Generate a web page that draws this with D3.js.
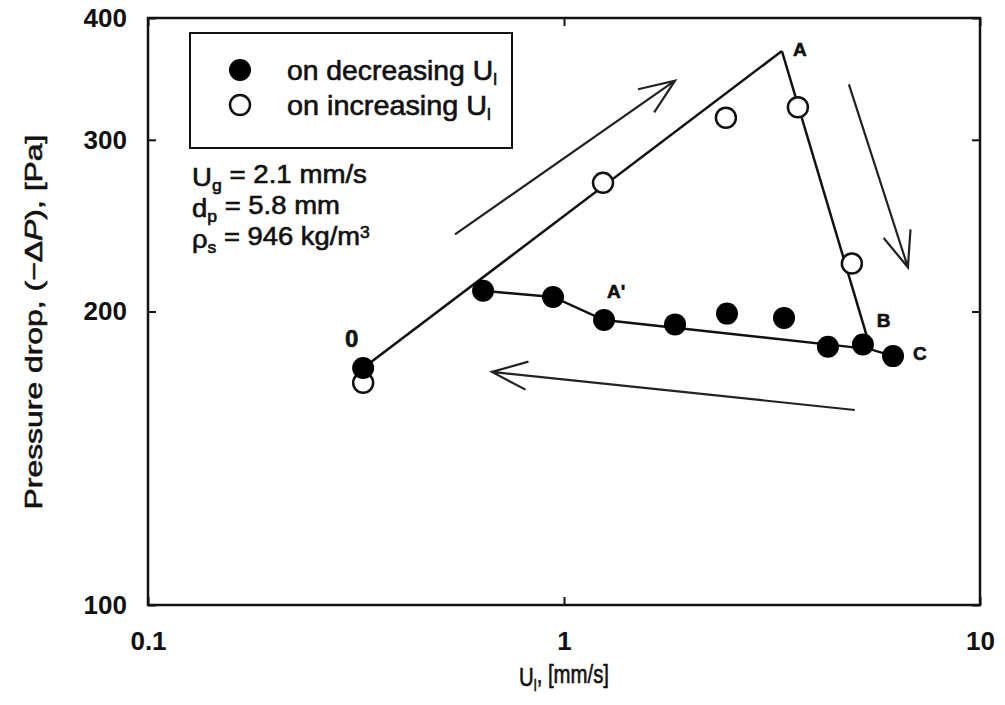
<!DOCTYPE html>
<html>
<head>
<meta charset="utf-8">
<script src="https://cdn.jsdelivr.net/npm/d3@7"></script>
<style>
  body { margin: 0; background: #fff; }
  svg { font-family: "Liberation Sans", Arial, sans-serif; }
  .tick text { font-weight: bold; font-size: 26px; fill: #111; }
  .tick line { stroke: #111; stroke-width: 2; }
  .txt { fill: #111; stroke: #111; stroke-width: 0.6; }
</style>
</head>
<body>
<div id="chart"></div>
<script>
// plot frame
const margin = {top: 18, right: 25, bottom: 100, left: 148};
const width = 1005 - margin.left - margin.right;
const height = 705 - margin.top - margin.bottom;

// axis ticks
const xTicks = [0.1, 1, 10];
const yTicks = [100, 200, 300, 400];

// filled circles: on decreasing U_l
const decU  = [0.329, 0.639, 0.941, 1.248, 1.849, 2.465, 3.38, 4.31, 5.23, 6.18];
const decDP = [175, 210, 207, 196, 194, 199, 197, 184, 185, 180];

// open circles: on increasing U_l
const incU  = [0.329, 1.241, 2.45, 3.65, 4.92];
const incDP = [169, 271, 316, 324, 224];

// guide lines (U_l, -dP)
const riseLine   = [[0.329, 175], [3.34, 370]];
const dropLine   = [[3.34, 370], [5.44, 184]];
const returnLine = [[0.639, 210], [0.941, 207], [1.248, 196], [5.44, 183], [6.18, 180]];

// direction arrows (from -> to)
const arrows = [
    {from: [0.547, 240], to: [1.849, 345]},
    {from: [4.84, 342], to: [6.71, 222]},
    {from: [5.0, 158.5], to: [0.671, 173.4]}
];

// point letters
const pointLabels = [
    {t: "A",  u: 3.55,  p: 366},
    {t: "A'", u: 1.269, p: 206.5},
    {t: "B",  u: 5.65,  p: 193},
    {t: "C",  u: 6.9,   p: 178.4},
    {t: "0",  u: 0.2976, p: 184}
];

const svg = d3.select("#chart").append("svg")
    .attr("width", 1005).attr("height", 705);
svg.append("rect").attr("width", 1005).attr("height", 705).attr("fill", "#fff");

const g = svg.append("g").attr("transform", `translate(${margin.left},${margin.top})`);

const x = d3.scaleLog().domain([0.1, 10]).range([0, width]);
const y = d3.scaleLog().domain([100, 400]).range([height, 0]);

// stretch a text horizontally (in its own frame) to a given width
function fit(sel, w, x0, y0, extra) {
    const bw = sel.node().getBBox().width;
    sel.attr("transform", `translate(${x0},${y0}) ${extra || ""} scale(${w / bw},1)`);
}

// axes with inward ticks
g.append("g").attr("transform", `translate(0,${height})`)
    .call(d3.axisBottom(x).tickValues(xTicks).tickFormat(d3.format("")).tickSize(-8).tickPadding(27))
    .call(a => a.select(".domain").remove());
g.append("g")
    .call(d3.axisLeft(y).tickValues(yTicks).tickFormat(d3.format("d")).tickSize(-8).tickPadding(21))
    .call(a => a.select(".domain").remove());
g.append("g").attr("transform", `translate(${width},0)`)
    .call(d3.axisRight(y).tickValues(yTicks).tickFormat("").tickSize(-8))
    .call(a => a.select(".domain").remove());
g.append("g")
    .call(d3.axisTop(x).tickValues(xTicks).tickFormat("").tickSize(-8))
    .call(a => a.select(".domain").remove());

g.append("rect").attr("width", width).attr("height", height)
    .attr("fill", "none").attr("stroke", "#111").attr("stroke-width", 2.5);

// axis titles
const xt = svg.append("text").attr("class", "txt")
    .attr("text-anchor", "middle").style("font-size", "25px");
xt.append("tspan").text("U");
xt.append("tspan").attr("dy", "0.3em").style("font-size", "16px").text("l");
xt.append("tspan").attr("dy", "-0.3em").text(", [mm/s]");
fit(xt, 90, margin.left + width / 2, 686);

const yt = svg.append("text").attr("class", "txt")
    .attr("text-anchor", "middle").style("font-size", "24px");
yt.append("tspan").text("Pressure drop, (\u2212\u0394");
yt.append("tspan").style("font-style", "italic").text("P");
yt.append("tspan").text("), [Pa]");
fit(yt, 375, 42, 322, "rotate(-90)");

// lines
const line = d3.line().x(d => x(d[0])).y(d => y(d[1]));
[riseLine, dropLine, returnLine].forEach(l => {
    g.append("path").datum(l).attr("d", line)
        .attr("fill", "none").attr("stroke", "#111").attr("stroke-width", 2.5);
});

// arrows
arrows.forEach(a => {
    const x1 = x(a.from[0]), y1 = y(a.from[1]);
    const x2 = x(a.to[0]), y2 = y(a.to[1]);
    const ang = Math.atan2(y2 - y1, x2 - x1);
    const len = 38, spread = 0.38;
    const b1 = [x2 - len * Math.cos(ang - spread), y2 - len * Math.sin(ang - spread)];
    const b2 = [x2 - len * Math.cos(ang + spread), y2 - len * Math.sin(ang + spread)];
    g.append("path")
        .attr("d", `M${x1},${y1}L${x2},${y2}M${b1[0]},${b1[1]}L${x2},${y2}L${b2[0]},${b2[1]}`)
        .attr("fill", "none").attr("stroke", "#222").attr("stroke-width", 2.2);
});

// data points
const decData = decU.map((u, i) => ({u, p: decDP[i]}));
const incData = incU.map((u, i) => ({u, p: incDP[i]}));

g.selectAll(".inc").data(incData).enter().append("circle")
    .attr("cx", d => x(d.u)).attr("cy", d => y(d.p)).attr("r", 10)
    .attr("fill", "#fff").attr("stroke", "#111").attr("stroke-width", 2.5);
g.selectAll(".dec").data(decData).enter().append("circle")
    .attr("cx", d => x(d.u)).attr("cy", d => y(d.p)).attr("r", 11)
    .attr("fill", "#000");

// point letters
g.selectAll(".plabel").data(pointLabels).enter().append("text")
    .attr("class", "txt")
    .attr("x", d => x(d.u)).attr("y", d => y(d.p))
    .style("font-size", d => d.t === "0" ? "24px" : "19px")
    .style("font-weight", "bold")
    .text(d => d.t);

// legend
const leg = svg.append("g");
leg.append("rect").attr("x", 190).attr("y", 33).attr("width", 322).attr("height", 115)
    .attr("fill", "#fff").attr("stroke", "#111").attr("stroke-width", 2);
leg.append("circle").attr("cx", 240).attr("cy", 70).attr("r", 11).attr("fill", "#000");
leg.append("circle").attr("cx", 240).attr("cy", 105).attr("r", 10)
    .attr("fill", "#fff").attr("stroke", "#111").attr("stroke-width", 2.5);
[["on decreasing U", 80, 210], ["on increasing U", 115, 204]].forEach(([t, yy, w]) => {
    const tx = leg.append("text").attr("class", "txt").style("font-size", "27px");
    tx.append("tspan").text(t);
    tx.append("tspan").attr("dy", "0.3em").style("font-size", "16px").text("l");
    fit(tx, w, 287, yy);
});

// conditions
const cond = svg.append("g").style("font-size", "25px");
const c1 = cond.append("text").attr("class", "txt");
c1.append("tspan").text("U");
c1.append("tspan").attr("dy", "0.3em").style("font-size", "16px").text("g");
c1.append("tspan").attr("dy", "-0.3em").text(" = 2.1 mm/s");
fit(c1, 175, 192, 186);
const c2 = cond.append("text").attr("class", "txt");
c2.append("tspan").text("d");
c2.append("tspan").attr("dy", "0.3em").style("font-size", "16px").text("p");
c2.append("tspan").attr("dy", "-0.3em").text(" = 5.8 mm");
fit(c2, 148, 192, 217);
const c3 = cond.append("text").attr("class", "txt");
c3.append("tspan").text("\u03c1");
c3.append("tspan").attr("dy", "0.3em").style("font-size", "16px").text("s");
c3.append("tspan").attr("dy", "-0.3em").text(" = 946 kg/m");
c3.append("tspan").attr("dy", "-0.45em").style("font-size", "16px").text("3");
fit(c3, 178, 192, 248);
</script>
</body>
</html>
